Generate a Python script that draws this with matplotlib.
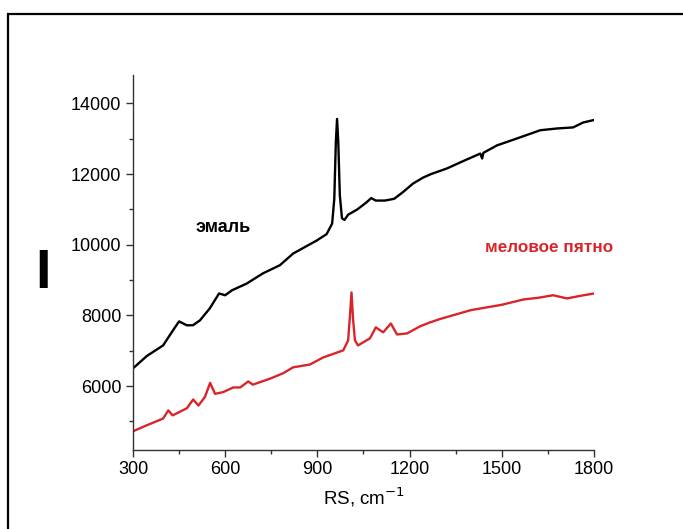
import matplotlib.pyplot as plt
from matplotlib.patches import Rectangle

plt.rcParams['font.family'] = ['Liberation Sans', 'DejaVu Sans']

# enamel spectrum (black)
x_enamel = [300, 345, 398, 430, 450, 475, 495, 518, 550, 580, 600, 622, 670, 723,
            778, 821, 898, 930, 948, 955, 960, 964, 968, 973, 980, 988, 1000, 1030,
            1060, 1075, 1090, 1120, 1150, 1180, 1211, 1244, 1270, 1322, 1370, 1430,
            1436, 1440, 1484, 1560, 1625, 1680, 1732, 1765, 1800]
y_enamel = [6500, 6850, 7150, 7575, 7830, 7720, 7720, 7860, 8200, 8620, 8570, 8710,
            8900, 9190, 9420, 9750, 10120, 10300, 10600, 11300, 12900, 13560, 12900,
            11400, 10750, 10700, 10850, 11000, 11200, 11320, 11250, 11250, 11300,
            11500, 11730, 11900, 12000, 12160, 12350, 12580, 12440, 12600, 12810,
            13040, 13240, 13290, 13320, 13460, 13530]

# chalk spot spectrum (red)
x_spot = [300, 345, 398, 415, 429, 475, 496, 513, 534, 551, 567, 594, 626, 649, 675,
          690, 746, 788, 821, 876, 919, 984, 1000, 1006, 1011, 1016, 1022, 1032, 1071,
          1090, 1114, 1139, 1159, 1192, 1234, 1266, 1300, 1400, 1500, 1570, 1620,
          1667, 1712, 1760, 1800]
y_spot = [4720, 4890, 5080, 5310, 5170, 5370, 5620, 5450, 5690, 6090, 5780, 5830,
          5960, 5960, 6130, 6040, 6210, 6360, 6530, 6610, 6810, 7010, 7290, 8000,
          8650, 7900, 7300, 7150, 7350, 7660, 7520, 7770, 7460, 7490, 7690, 7800,
          7900, 8150, 8300, 8450, 8500, 8570, 8480, 8560, 8620]

fig = plt.figure(figsize=(6.83, 5.29), dpi=100)
ax = fig.add_axes([0.1947, 0.150, 0.675, 0.708])

ax.plot(x_enamel, y_enamel, color='black', lw=1.7)
ax.plot(x_spot, y_spot, color='#d9252a', lw=1.7)

ax.set_xlim(300, 1800)
ax.set_ylim(4200, 14800)
ax.set_xticks([300, 600, 900, 1200, 1500, 1800])
ax.set_xticks([450, 750, 1050, 1350, 1650], minor=True)
ax.set_yticks([6000, 8000, 10000, 12000, 14000])
ax.set_yticks([5000, 7000, 9000, 11000, 13000], minor=True)
ax.tick_params(which='major', length=5, width=1, color='#333333', labelsize=13)
ax.tick_params(which='minor', length=3, width=1, color='#333333')
ax.spines[['top', 'right']].set_visible(False)
for s in ['left', 'bottom']:
    ax.spines[s].set_color('#333333')
    ax.spines[s].set_linewidth(1)

ax.set_xlabel('RS, cm$^{-1}$', fontsize=13.5, labelpad=5)
fig.text(43 / 683, 1 - 274 / 529, 'I', fontsize=40, fontweight='bold',
         ha='center', va='center')

ax.text(505, 10480, 'эмаль', fontsize=13, fontweight='bold', va='center')
ax.text(1445, 9920, 'меловое пятно', fontsize=12.3, fontweight='bold',
        color='#d9252a', va='center')

fig.add_artist(Rectangle((8 / 683, -0.05), 1.0, 1 - 14 / 529 + 0.05,
                         transform=fig.transFigure, fill=False,
                         edgecolor='black', lw=1.6))

fig.savefig('out.png', dpi=100)
